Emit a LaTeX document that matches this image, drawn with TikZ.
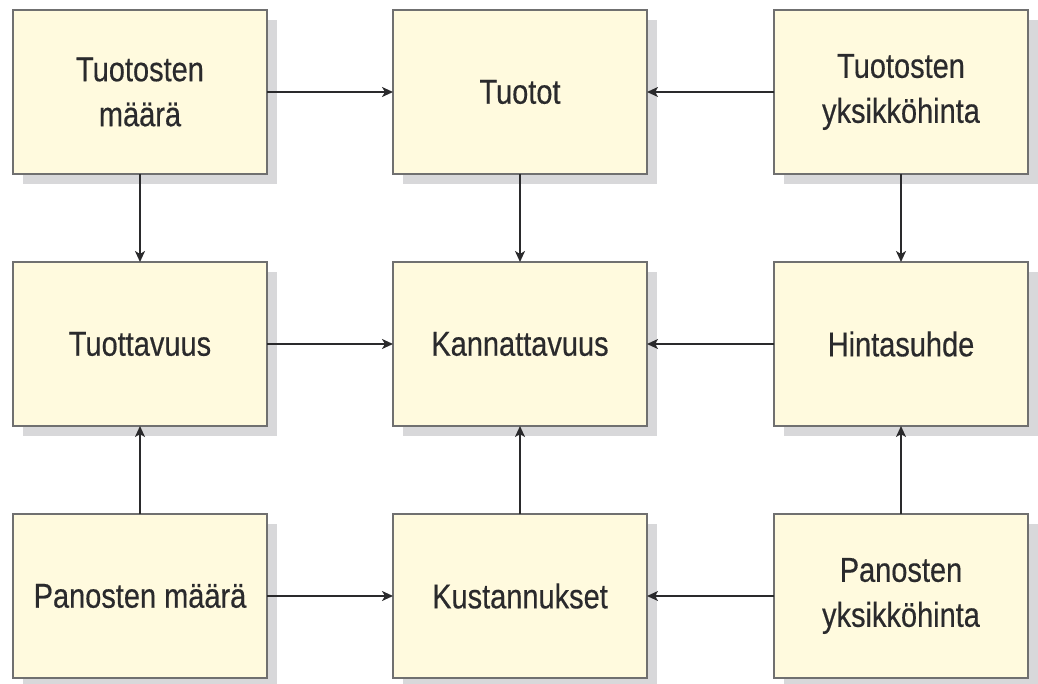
\documentclass[tikz,border=0pt]{standalone}
\usepackage{fontspec}
\setmainfont{Liberation Sans}[FakeStretch=0.84,FakeBold=0.4]
\usetikzlibrary{arrows.meta,shadows}
\definecolor{boxfill}{HTML}{FFFADE}
\definecolor{boxline}{HTML}{707070}
\definecolor{shadowc}{HTML}{D8D8DA}
\definecolor{ink}{HTML}{2A2A2C}
\tikzset{
  blk/.style={draw=boxline, line width=1.5pt, fill=boxfill, minimum width=254pt, minimum height=164pt,
    inner sep=0pt, outer sep=0pt, align=center, text=ink, font=\fontsize{34.5}{45}\selectfont,
    drop shadow={shadow xshift=10pt, shadow yshift=-10pt, fill=shadowc, opacity=1}},
  conn/.style={draw=ink, line width=1.8pt, -{Stealth[length=11pt,width=10pt,inset=3pt]}},
  thickconn/.style={conn, line width=2.6pt}
}
\begin{document}
\begin{tikzpicture}[x=1pt,y=-1pt]
\useasboundingbox (0,0) rectangle (1038,684);
\node[blk] (tm) at (140,92) {Tuotosten\\määrä};
\node[blk] (tt) at (520,92) {Tuotot};
\node[blk] (ty) at (901,92) {Tuotosten\\yksikköhinta};
\node[blk] (tv) at (140,344) {Tuottavuus};
\node[blk] (ka) at (520,344) {Kannattavuus};
\node[blk] (hs) at (901,344) {Hintasuhde};
\node[blk] (pm) at (140,596) {Panosten määrä};
\node[blk] (ku) at (520,596) {Kustannukset};
\node[blk] (py) at (901,596) {Panosten\\yksikköhinta};
\draw[conn] (tm) -- (tt);
\draw[conn] (ty) -- (tt);
\draw[conn] (tm) -- (tv);
\draw[conn] (tt) -- (ka);
\draw[conn] (ty) -- (hs);
\draw[thickconn] (tv) -- (ka);
\draw[conn] (hs) -- (ka);
\draw[conn] (pm) -- (tv);
\draw[thickconn] (ku) -- (ka);
\draw[conn] (py) -- (hs);
\draw[conn] (pm) -- (ku);
\draw[conn] (py) -- (ku);
\end{tikzpicture}
\end{document}
